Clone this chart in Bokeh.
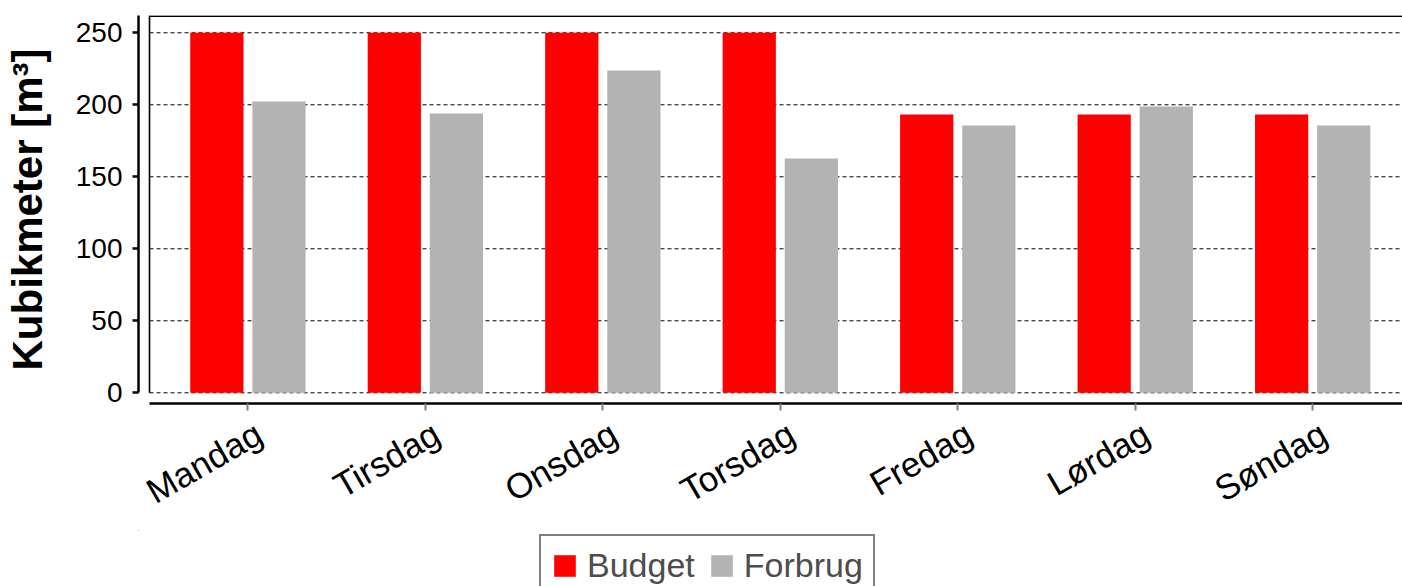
import math
from bokeh.plotting import figure
from bokeh.layouts import column
from bokeh.models import (Range1d, FixedTicker, Legend, LegendItem, ColumnDataSource,
                          LinearAxis)
from bokeh.transform import dodge
from bokeh.embed import file_html
from bokeh.resources import INLINE

# ---- data ----
days = ["Mandag", "Tirsdag", "Onsdag", "Torsdag", "Fredag", "Lørdag", "Søndag"]
budget = [250, 250, 250, 250, 193.3, 193.3, 193.3]
forbrug = [202.3, 194.0, 223.8, 162.7, 185.6, 198.8, 185.6]
y_ticks = [0, 50, 100, 150, 200, 250]
series_names = ["Budget", "Forbrug"]
series_colors = ["#FF0000", "#B3B3B3"]

# ---- layout constants ----
X_START, X_END = -0.6165, 6.506
PANEL_X0 = -0.5545
Y_START, Y_TOP = -7.43, 262.0
LABEL_SHIFT = 0.062          # rotated labels sit slightly right of their tick
FONT = "Liberation Sans"

xs = list(range(len(days)))
src = ColumnDataSource(dict(x=xs, budget=budget, forbrug=forbrug))

p = figure(width=1402, height=530, output_backend="svg", toolbar_location=None,
           x_range=Range1d(X_START, X_END), y_range=Range1d(Y_START, Y_TOP),
           min_border_left=138, min_border_right=0, min_border_top=15,
           min_border_bottom=127)
p.outline_line_color = None
p.xgrid.visible = False
p.ygrid.visible = False

# grid lines inside the panel
n = len(y_ticks)
p.segment(x0=[PANEL_X0] * n, y0=y_ticks, x1=[X_END] * n, y1=y_ticks,
          line_color="black", line_width=1, line_dash="4 3")
# panel border: top and left
p.segment(x0=[PANEL_X0], y0=[Y_TOP - 0.4], x1=[X_END], y1=[Y_TOP - 0.4],
          line_color="black", line_width=1.6)
p.segment(x0=[PANEL_X0], y0=[0], x1=[PANEL_X0], y1=[Y_TOP],
          line_color="black", line_width=1.6)

p.vbar(x=dodge("x", -0.175), top="budget", width=0.3, bottom=0, source=src,
       fill_color=series_colors[0], line_color=None)
p.vbar(x=dodge("x", 0.175), top="forbrug", width=0.3, bottom=0, source=src,
       fill_color=series_colors[1], line_color=None)

# y axis
ya = p.yaxis[0]
ya.ticker = FixedTicker(ticks=y_ticks)
ya.bounds = (0, Y_TOP)
ya.axis_line_width = 2.5
ya.axis_line_color = "black"
ya.major_tick_line_width = 2.5
ya.major_tick_line_color = "black"
ya.major_tick_out = 6
ya.major_tick_in = 0
ya.minor_tick_line_color = None
ya.major_label_standoff = 10
ya.major_label_text_font = FONT
ya.major_label_text_font_size = "28px"
ya.major_label_text_color = "black"
ya.axis_label = "Kubikmeter [m³]"
ya.axis_label_text_font = FONT
ya.axis_label_text_font_size = "42px"
ya.axis_label_text_font_style = "bold"
ya.axis_label_text_color = "black"
ya.axis_label_standoff = 22

# x axis: line and ticks (labels carried by a second axis below)
xa = p.xaxis[0]
xa.ticker = FixedTicker(ticks=xs)
xa.major_label_overrides = {i: "" for i in xs}
xa.major_label_text_font_size = "1px"
xa.major_label_standoff = 0
xa.bounds = (PANEL_X0, X_END)
xa.axis_line_width = 2.5
xa.axis_line_color = "black"
xa.major_tick_line_color = "#808080"
xa.major_tick_line_width = 2
xa.major_tick_out = 7
xa.major_tick_in = 0
xa.minor_tick_line_color = None

label_ticks = [x + LABEL_SHIFT for x in xs]
xl = LinearAxis(ticker=FixedTicker(ticks=label_ticks),
                major_label_overrides={t: d for t, d in zip(label_ticks, days)})
xl.axis_line_color = None
xl.major_tick_line_color = None
xl.minor_tick_line_color = None
xl.major_tick_out = 0
xl.major_tick_in = 0
xl.major_label_orientation = math.pi / 6
xl.major_label_standoff = 20
xl.major_label_text_font = FONT
xl.major_label_text_font_size = "35px"
xl.major_label_text_color = "black"
p.add_layout(xl, "below")

# ---- legend strip below the chart ----
lg = figure(width=1402, height=56, output_backend="svg", toolbar_location=None,
            x_range=Range1d(1000, 1001), y_range=Range1d(-1001, -1000),
            x_axis_type=None, y_axis_type=None,
            min_border_left=0, min_border_right=0, min_border_top=0,
            min_border_bottom=0)
lg.outline_line_color = None
lg.xgrid.visible = False
lg.ygrid.visible = False
l1 = lg.vbar(x=dodge("x", -0.175), top="budget", width=0.3, bottom="budget",
             source=src, fill_color=series_colors[0], line_color=None)
l2 = lg.vbar(x=dodge("x", 0.175), top="forbrug", width=0.3, bottom="forbrug",
             source=src, fill_color=series_colors[1], line_color=None)

legend = Legend(items=[LegendItem(label=series_names[0], renderers=[l1]),
                       LegendItem(label=series_names[1], renderers=[l2])],
                orientation="horizontal", location=(401, -11))
legend.glyph_width = 27
legend.glyph_height = 27
legend.label_standoff = 9
legend.spacing = 13
legend.padding = 10
legend.margin = 0
legend.border_line_color = "black"
legend.border_line_width = 2
legend.label_text_font = FONT
legend.label_text_font_size = "34px"
legend.label_text_color = "#4D4D4D"
legend.background_fill_alpha = 1
lg.add_layout(legend, "center")

layout = column(p, lg, spacing=0)
open("out.html", "w").write(file_html(layout, INLINE))
